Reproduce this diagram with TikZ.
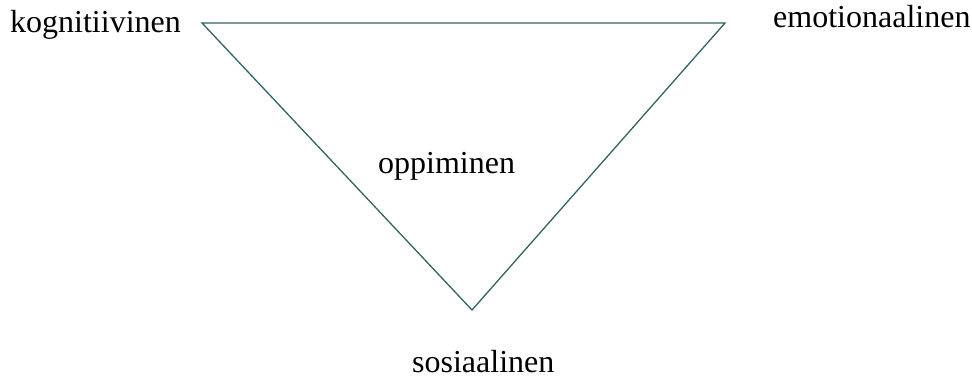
\documentclass[tikz,border=0pt]{standalone}
\usepackage{fontspec}
\setmainfont{Liberation Serif}
\definecolor{tealline}{RGB}{49,99,99}
\begin{document}
\begin{tikzpicture}[x=1pt,y=-1pt,
  lbl/.style={inner sep=0pt,font=\fontsize{32}{36}\selectfont,text=black},
  edge/.style={draw=tealline,line width=1.3pt,line join=miter}]
\useasboundingbox (0,0) rectangle (972,378);
\coordinate (tl) at (202,23);
\coordinate (tr) at (725,23);
\coordinate (bt) at (472,310);
\draw[edge] (tl) -- (tr) -- (bt) -- cycle;
\node[lbl,anchor=base west] (kog) at (10,32) {kognitiivinen};
\node[lbl,anchor=base west] (emo) at (773,27) {emotionaalinen};
\node[lbl,anchor=base west] (opp) at (378,173) {oppiminen};
\node[lbl,anchor=base west] (sos) at (412,372) {sosiaalinen};
\end{tikzpicture}
\end{document}
